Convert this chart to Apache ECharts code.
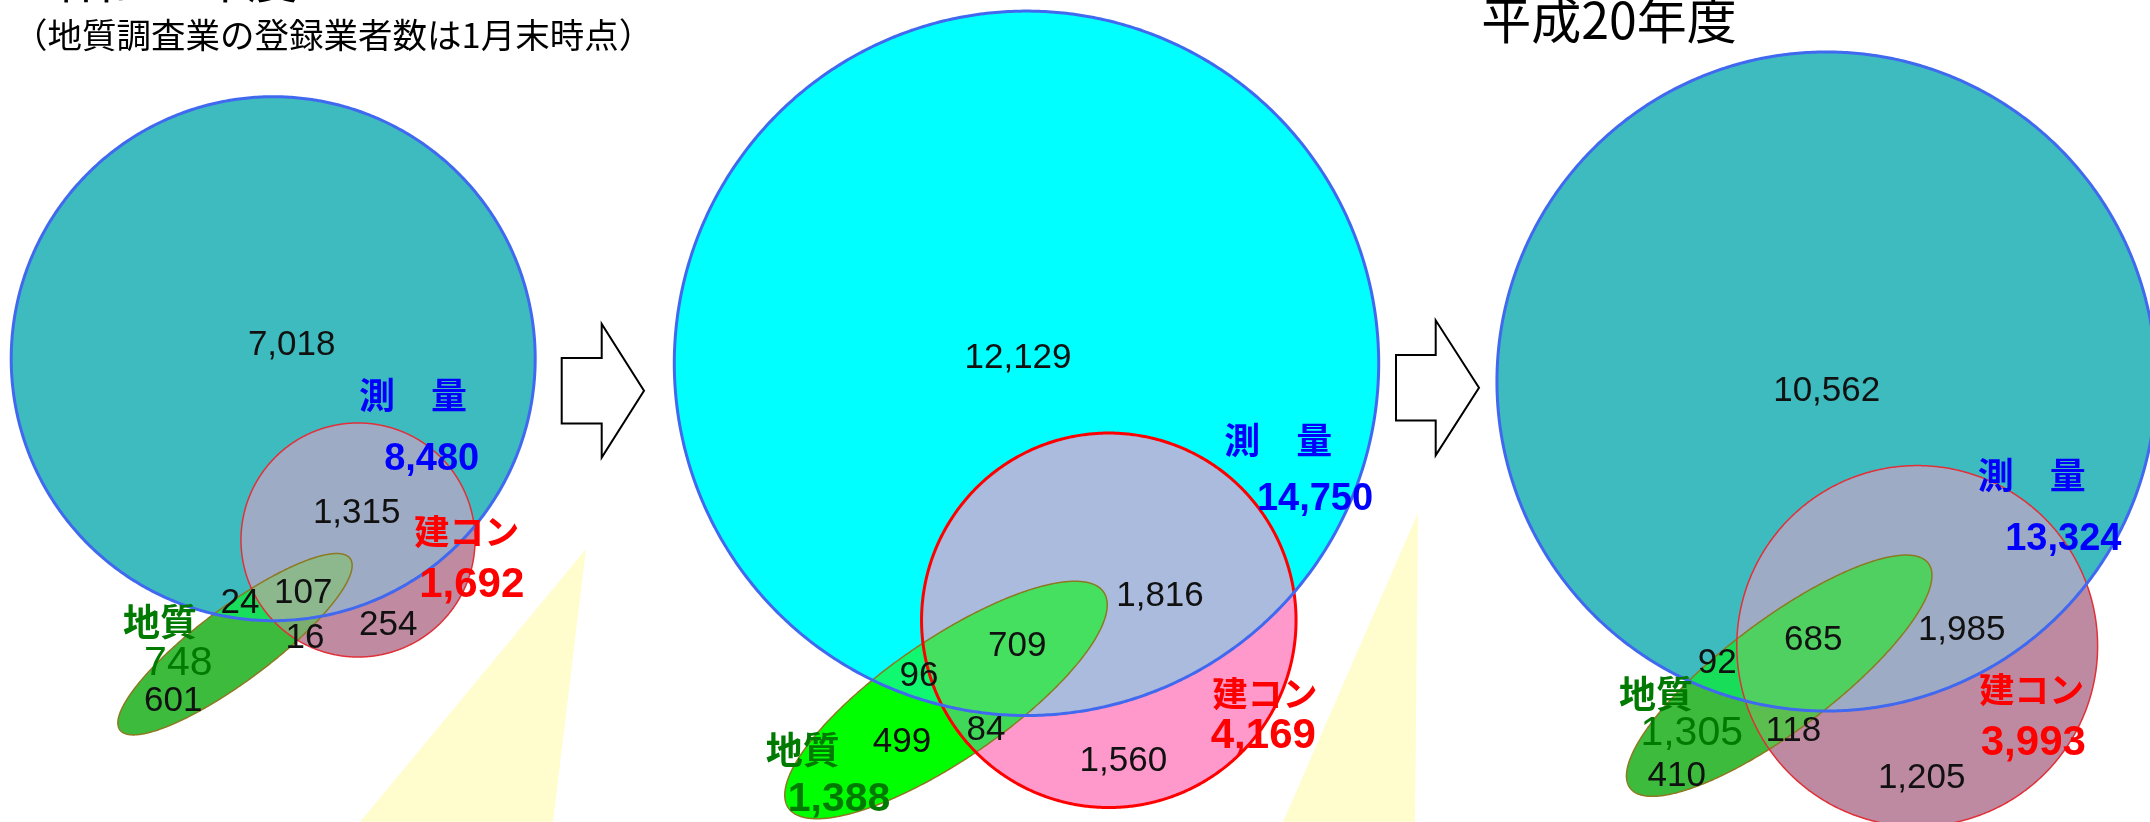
<!DOCTYPE html>
<html>
<head>
<meta charset="utf-8">
<script src="https://cdn.jsdelivr.net/npm/echarts@6/dist/echarts.min.js"></script>
<style>
  html, body { margin: 0; padding: 0; background: #fff; }
  #main { width: 2150px; height: 822px; }
</style>
</head>
<body>
<div id="main"></div>
<script>
// 登録業者数（3時点）
const panelTitles = ['昭和55年度', '', '平成20年度']
const setNames = ['測　量', '建コン', '地質']
const totalSurvey = [8480, 14750, 13324]
const totalConsult = [1692, 4169, 3993]
const totalGeo = [748, 1388, 1305]
const onlySurvey = [7018, 12129, 10562]
const surveyConsult = [1315, 1816, 1985]
const onlyConsult = [254, 1560, 1205]
const onlyGeo = [601, 499, 410]
const geoSurvey = [24, 96, 92]
const geoConsult = [16, 84, 118]
const allThree = [107, 709, 685]
const note = '（地質調査業の登録業者数は1月末時点）'

// layout per panel (axis units = pixels), radius = k * sqrt(total)
const layout = [
  {
    k: 2.845, survey: [273.2, 358.7], consult: [358, 540],
    geo: [235, 644.2], geoK: 5.247, geoAspect: 3.9, geoAngle: 36.7,
    fill: { s: '#3EBBBE', sc: '#9EABC4', c: '#C08AA0', g: '#3DBB3D', gs: '#19DE5C', gc: '#7BAE6E', all: '#8DB88E' },
    redLine: ['#E0303A', 1.5], geoBold: false,
    pos: {
      onlySurvey: [291.7, 345], surveyConsult: [356.7, 513.3], onlyConsult: [388.3, 625],
      onlyGeo: [173.3, 701.7], geoSurvey: [240, 603.3], geoConsult: [305, 638.3], allThree: [303.3, 593.3],
      nameSurvey: [413, 395], totalSurvey: [431.7, 460], nameConsult: [466.7, 531.7],
      totalConsult: [471.7, 585], nameGeo: [160, 621.7], totalGeo: [178.3, 663.3],
    },
  },
  {
    k: 2.9, survey: [1026.5, 363.3], consult: [1108.8, 620.3],
    geo: [946, 700], geoK: 5.127, geoAspect: 3.18, geoAngle: 34.4,
    fill: { s: '#00FFFF', sc: '#AABBDD', c: '#FF99CC', g: '#00FF00', gs: '#10F870', gc: '#40D858', all: '#46E060' },
    redLine: ['#FF0000', 3], geoBold: true,
    pos: {
      onlySurvey: [1018, 358.3], surveyConsult: [1160, 596.7], onlyConsult: [1123.3, 761.7],
      onlyGeo: [902, 742], geoSurvey: [919, 676.5], geoConsult: [986, 730], allThree: [1017.3, 646.7],
      nameSurvey: [1278.3, 440], totalSurvey: [1315, 500], nameConsult: [1265, 693.3],
      totalConsult: [1263.3, 736.7], nameGeo: [802.7, 750], totalGeo: [839, 799.5],
    },
  },
  {
    k: 2.855, survey: [1826.5, 381.5], consult: [1917.2, 646],
    geo: [1779.2, 675.7], geoK: 5.169, geoAspect: 3.4, geoAngle: 37,
    fill: { s: '#3EBBBE', sc: '#9EABC4', c: '#BE8AA2', g: '#3CBB3C', gs: '#18DD58', gc: '#5DBE50', all: '#50D060' },
    redLine: ['#E0303A', 1.5], geoBold: false,
    pos: {
      onlySurvey: [1826.7, 391.7], surveyConsult: [1961.7, 630], onlyConsult: [1921.7, 778.3],
      onlyGeo: [1676.7, 776.7], geoSurvey: [1717.3, 663.3], geoConsult: [1793.3, 731.7], allThree: [1813.3, 640],
      nameSurvey: [2031.7, 475], totalSurvey: [2063.3, 539.3], nameConsult: [2031.7, 690],
      totalConsult: [2033.3, 743.3], nameGeo: [1656, 694], totalGeo: [1691.7, 733.3],
    },
  },
]

const NUM_FONT = '"Liberation Sans", Arial, sans-serif'
const JP_FONT = '"Noto Sans CJK JP", sans-serif'
const fmt = (v) => v.toLocaleString('en-US')

function circleShape(c, r) {
  const pts = []
  for (let j = 0; j < 720; j++) {
    const t = j / 720 * Math.PI * 2
    pts.push([c[0] + r * Math.cos(t), c[1] + r * Math.sin(t)])
  }
  return { pts, inside: (p) => (p[0] - c[0]) ** 2 + (p[1] - c[1]) ** 2 <= r * r + 1e-6 }
}

function ellipseShape(c, a, b, th) {
  const ux = Math.cos(th), uy = -Math.sin(th)
  const vx = Math.sin(th), vy = Math.cos(th)
  const pts = []
  for (let j = 0; j < 720; j++) {
    const t = j / 720 * Math.PI * 2
    const ca = a * Math.cos(t), sb = b * Math.sin(t)
    pts.push([c[0] + ca * ux + sb * vx, c[1] + ca * uy + sb * vy])
  }
  return {
    pts,
    inside: (p) => {
      const dx = p[0] - c[0], dy = p[1] - c[1]
      const u = dx * ux + dy * uy, v = dx * vx + dy * vy
      return (u / a) ** 2 + (v / b) ** 2 <= 1 + 1e-6
    },
  }
}

// convex intersection: boundary samples lying inside every other shape
function intersect(shapes) {
  const pts = []
  shapes.forEach((s, si) => {
    s.pts.forEach((p) => {
      if (shapes.every((o, oi) => oi === si || o.inside(p))) pts.push(p)
    })
  })
  if (pts.length < 3) return null
  let cx = 0, cy = 0
  pts.forEach((p) => { cx += p[0]; cy += p[1] })
  cx /= pts.length; cy /= pts.length
  pts.sort((p, q) => Math.atan2(p[1] - cy, p[0] - cx) - Math.atan2(q[1] - cy, q[0] - cx))
  return pts
}

function poly(points, fill, stroke, lw) {
  if (!points) return null
  return {
    type: 'polygon',
    shape: { points },
    style: { fill: fill || 'none', stroke: stroke || 'none', lineWidth: lw || 0 },
  }
}

function label(xy, text, font, size, weight, color) {
  return {
    type: 'text', x: xy[0], y: xy[1],
    style: {
      text, fontFamily: font, fontSize: size, fontWeight: weight, fill: color,
      align: 'center', verticalAlign: 'middle',
    },
  }
}

function renderPanel(params, api) {
  const i = api.value(0)
  const L = layout[i]
  const len = (v) => api.size([v, 0])[0]
  const sc = api.coord(L.survey), cc = api.coord(L.consult), gc = api.coord(L.geo)
  const rs = len(L.k * Math.sqrt(totalSurvey[i]))
  const rc = len(L.k * Math.sqrt(totalConsult[i]))
  const ga = len(L.geoK * Math.sqrt(totalGeo[i]))
  const gb = ga / L.geoAspect
  const S = circleShape(sc, rs)
  const C = circleShape(cc, rc)
  const G = ellipseShape(gc, ga, gb, L.geoAngle * Math.PI / 180)
  const f = L.fill
  const P = (key) => api.coord(L.pos[key])

  const children = [
    poly(S.pts, f.s),
    poly(C.pts, f.c),
    poly(intersect([S, C]), f.sc),
    poly(G.pts, f.g),
    poly(intersect([G, S]), f.gs),
    poly(intersect([G, C]), f.gc),
    poly(intersect([G, S, C]), f.all),
    poly(G.pts, null, '#8C7A22', 1.5),
    poly(C.pts, null, L.redLine[0], L.redLine[1]),
    poly(S.pts, null, '#4169F0', 3),

    label(P('onlySurvey'), fmt(onlySurvey[i]), NUM_FONT, 35, 'normal', '#111'),
    label(P('surveyConsult'), fmt(surveyConsult[i]), NUM_FONT, 35, 'normal', '#111'),
    label(P('onlyConsult'), fmt(onlyConsult[i]), NUM_FONT, 35, 'normal', '#111'),
    label(P('onlyGeo'), fmt(onlyGeo[i]), NUM_FONT, 35, 'normal', '#111'),
    label(P('geoSurvey'), fmt(geoSurvey[i]), NUM_FONT, 35, 'normal', '#111'),
    label(P('geoConsult'), fmt(geoConsult[i]), NUM_FONT, 35, 'normal', '#111'),
    label(P('allThree'), fmt(allThree[i]), NUM_FONT, 35, 'normal', '#111'),

    label(P('nameSurvey'), setNames[0], JP_FONT, 36, 'bold', '#0000FF'),
    label(P('totalSurvey'), fmt(totalSurvey[i]), NUM_FONT, 38, 'bold', '#0000FF'),
    label(P('nameConsult'), setNames[1], JP_FONT, 35, 'bold', '#FF0000'),
    label(P('totalConsult'), fmt(totalConsult[i]), NUM_FONT, 42, 'bold', '#FF0000'),
    label(P('nameGeo'), setNames[2], JP_FONT, 37, 'bold', '#007A00'),
    label(P('totalGeo'), fmt(totalGeo[i]), NUM_FONT, 41, L.geoBold ? 'bold' : 'normal', '#007A00'),
  ].filter(Boolean)

  return { type: 'group', children }
}

const arrow = (x0, x1, x2, yc, hs, hh) => [
  [x0, yc - hs], [x1, yc - hs], [x1, yc - hh], [x2, yc],
  [x1, yc + hh], [x1, yc + hs], [x0, yc + hs],
]

const option = {
  animation: false,
  backgroundColor: '#fff',
  grid: { left: 0, right: 0, top: 0, bottom: 0 },
  xAxis: { type: 'value', min: 0, max: 2150, show: false },
  yAxis: { type: 'value', min: 0, max: 822, inverse: true, show: false },
  graphic: [
    { type: 'polygon', z: -1, shape: { points: [[586, 549], [553, 822], [360, 822]] }, style: { fill: '#FFFDCD' } },
    { type: 'polygon', z: -1, shape: { points: [[1418, 513], [1415, 822], [1283, 822]] }, style: { fill: '#FFFDCD' } },
    { type: 'polygon', shape: { points: arrow(561.7, 601.7, 644, 390.7, 32.7, 66.8) }, style: { fill: '#fff', stroke: '#000', lineWidth: 2 } },
    { type: 'polygon', shape: { points: arrow(1396, 1435.7, 1479, 387.8, 32.8, 67.5) }, style: { fill: '#fff', stroke: '#000', lineWidth: 2 } },
    { type: 'text', x: 170, y: -21, style: { text: panelTitles[0], fontFamily: JP_FONT, fontSize: 50, fill: '#000', align: 'center', verticalAlign: 'middle' } },
    { type: 'text', x: 1609, y: 20, style: { text: panelTitles[2], fontFamily: JP_FONT, fontSize: 50, fill: '#000', align: 'center', verticalAlign: 'middle' } },
    { type: 'text', x: 13, y: 35, style: { text: note, fontFamily: JP_FONT, fontSize: 34.5, fill: '#000', align: 'left', verticalAlign: 'middle' } },
  ],
  series: [
    {
      type: 'custom',
      coordinateSystem: 'cartesian2d',
      data: [[0], [1], [2]],
      renderItem: renderPanel,
      clip: false,
      silent: true,
    },
  ],
}

const chart = echarts.init(document.getElementById('main'))
chart.setOption(option)
</script>
</body>
</html>
